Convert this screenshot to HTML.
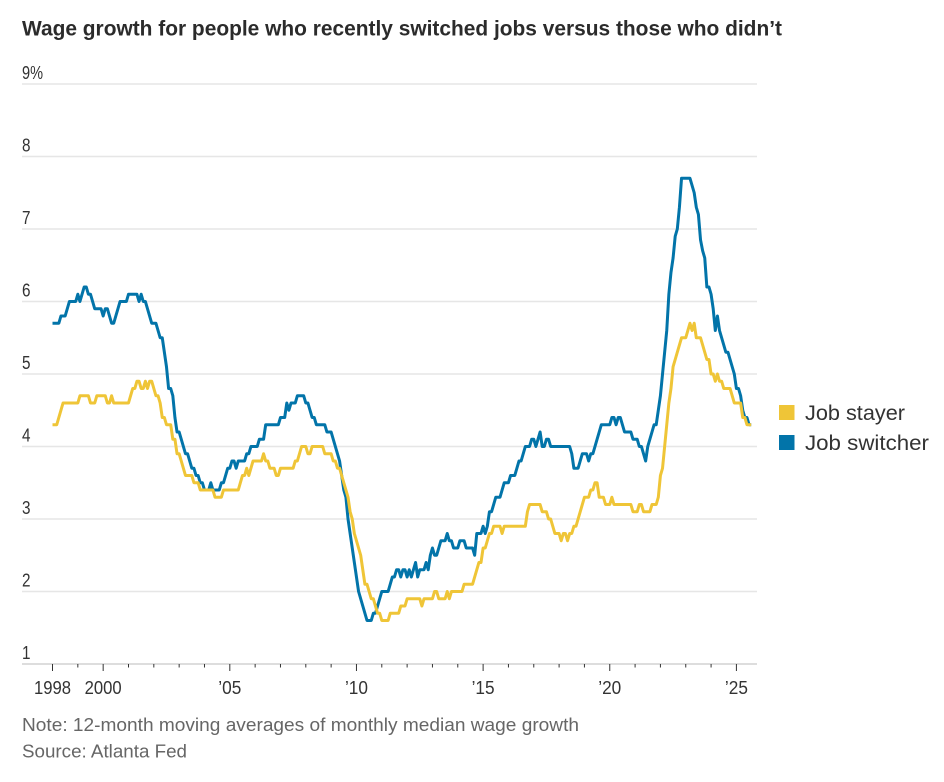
<!DOCTYPE html>
<html lang="en">
<head>
<meta charset="utf-8">
<title>Wage growth for job switchers and job stayers</title>
<style>
  html, body { margin: 0; padding: 0; background: #fff; }
  body { width: 944px; height: 782px; overflow: hidden; }
  svg { display: block; font-family: "Liberation Sans", sans-serif; }
</style>
</head>
<body>
<svg id="chart" width="944" height="782" viewBox="0 0 944 782" xmlns="http://www.w3.org/2000/svg">
  <text x="22" y="35.5" font-size="21" font-weight="700" fill="#2b2b2b" textLength="760" lengthAdjust="spacingAndGlyphs">Wage growth for people who recently switched jobs versus those who didn’t</text>
  <g id="grid"></g>
  <g id="yLabels"></g>
  <g id="xAxis"></g>
  <g id="series"></g>
  <g>
    <rect x="779" y="405" width="15.5" height="15" fill="#efc537"></rect>
    <text x="805" y="420" font-size="21.5" fill="#333" textLength="100" lengthAdjust="spacingAndGlyphs">Job stayer</text>
    <rect x="779" y="435" width="15.5" height="15" fill="#0274a9"></rect>
    <text x="805" y="450" font-size="21.5" fill="#333" textLength="124" lengthAdjust="spacingAndGlyphs">Job switcher</text>
  </g>
  <text x="22" y="731" font-size="18.5" fill="#666" textLength="557" lengthAdjust="spacingAndGlyphs">Note: 12-month moving averages of monthly median wage growth</text>
  <text x="22" y="757.5" font-size="18.5" fill="#666" textLength="165" lengthAdjust="spacingAndGlyphs">Source: Atlanta Fed</text>
</svg>
<script>
const startYear = 1998;
const yTicks = [1, 2, 3, 4, 5, 6, 7, 8, 9];
const yTickLabels = ['1', '2', '3', '4', '5', '6', '7', '8', '9%'];
const xYears = [1998, 1999, 2000, 2001, 2002, 2003, 2004, 2005, 2006, 2007, 2008, 2009, 2010, 2011, 2012, 2013, 2014, 2015, 2016, 2017, 2018, 2019, 2020, 2021, 2022, 2023, 2024, 2025];
const xLabelYears = [1998, 2000, 2005, 2010, 2015, 2020, 2025];
const xTickLabels = ['1998', '2000', '’05', '’10', '’15', '’20', '’25'];
const jobStayer = [
  4.3,4.3,4.3,4.4,4.5,4.6,4.6,4.6,4.6,4.6,4.6,4.6,
  4.6,4.7,4.7,4.7,4.7,4.7,4.6,4.6,4.6,4.7,4.7,4.7,
  4.7,4.7,4.6,4.6,4.7,4.6,4.6,4.6,4.6,4.6,4.6,4.6,
  4.6,4.7,4.8,4.8,4.9,4.9,4.8,4.8,4.9,4.8,4.9,4.9,
  4.8,4.7,4.7,4.6,4.4,4.4,4.3,4.3,4.3,4.1,4.1,3.9,
  3.9,3.8,3.7,3.6,3.6,3.6,3.6,3.5,3.5,3.5,3.4,3.4,
  3.4,3.4,3.4,3.4,3.4,3.3,3.3,3.3,3.3,3.4,3.4,3.4,
  3.4,3.4,3.4,3.4,3.4,3.5,3.6,3.6,3.7,3.6,3.7,3.8,
  3.8,3.8,3.8,3.8,3.9,3.8,3.8,3.7,3.7,3.7,3.6,3.6,
  3.7,3.7,3.7,3.7,3.7,3.7,3.7,3.8,3.8,3.9,4.0,4.0,
  4.0,3.9,3.9,4.0,4.0,4.0,4.0,4.0,4.0,3.9,3.9,3.9,
  3.9,3.8,3.8,3.7,3.7,3.6,3.5,3.4,3.3,3.1,3.0,2.8,
  2.7,2.6,2.5,2.3,2.1,2.1,2.0,1.9,1.9,1.8,1.7,1.7,
  1.6,1.6,1.6,1.6,1.7,1.7,1.7,1.7,1.7,1.8,1.8,1.8,
  1.9,1.9,1.9,1.9,1.9,1.9,1.9,1.8,1.9,1.9,1.9,1.9,
  1.9,2.0,2.0,1.9,1.9,1.9,1.9,2.0,1.9,2.0,2.0,2.0,
  2.0,2.0,2.0,2.1,2.1,2.1,2.1,2.1,2.2,2.3,2.4,2.4,
  2.6,2.6,2.7,2.8,2.8,2.9,2.9,2.9,2.9,2.8,2.9,2.9,
  2.9,2.9,2.9,2.9,2.9,2.9,2.9,2.9,2.9,3.1,3.2,3.2,
  3.2,3.2,3.2,3.2,3.1,3.1,3.1,3.0,3.0,2.9,2.8,2.8,
  2.8,2.7,2.8,2.8,2.7,2.8,2.8,2.9,2.9,3.0,3.1,3.2,
  3.3,3.3,3.3,3.4,3.4,3.5,3.5,3.3,3.3,3.3,3.2,3.2,
  3.2,3.3,3.2,3.2,3.2,3.2,3.2,3.2,3.2,3.2,3.2,3.1,
  3.1,3.1,3.2,3.2,3.1,3.1,3.1,3.1,3.2,3.2,3.2,3.3,
  3.6,3.7,4.0,4.3,4.6,4.8,5.1,5.2,5.3,5.4,5.5,5.5,
  5.5,5.6,5.7,5.6,5.7,5.5,5.5,5.5,5.4,5.3,5.2,5.2,
  5.0,5.0,4.9,5.0,4.9,4.9,4.8,4.8,4.8,4.8,4.7,4.6,
  4.6,4.6,4.6,4.4,4.4,4.3,4.3,4.3
];
const jobSwitcher = [
  5.7,5.7,5.7,5.7,5.8,5.8,5.8,5.9,6.0,6.0,6.0,6.0,
  6.1,6.0,6.1,6.2,6.2,6.1,6.1,6.0,5.9,5.9,5.9,5.9,
  5.8,5.9,5.9,5.8,5.7,5.7,5.8,5.9,6.0,6.0,6.0,6.0,
  6.1,6.1,6.1,6.1,6.1,6.0,6.1,6.0,6.0,5.9,5.8,5.7,
  5.7,5.7,5.6,5.5,5.5,5.3,5.1,4.8,4.8,4.7,4.4,4.2,
  4.2,4.1,4.0,3.9,3.9,3.8,3.7,3.7,3.6,3.6,3.5,3.5,
  3.4,3.4,3.4,3.5,3.4,3.4,3.4,3.4,3.5,3.5,3.6,3.7,
  3.7,3.8,3.8,3.7,3.8,3.8,3.8,3.8,3.9,3.9,4.0,4.0,
  4.0,4.0,4.1,4.1,4.1,4.3,4.3,4.3,4.3,4.3,4.3,4.3,
  4.4,4.4,4.4,4.6,4.5,4.6,4.6,4.6,4.7,4.7,4.7,4.7,
  4.6,4.6,4.5,4.4,4.4,4.3,4.3,4.3,4.3,4.3,4.2,4.2,
  4.2,4.1,4.0,3.9,3.8,3.6,3.4,3.3,3.0,2.8,2.6,2.4,
  2.2,2.0,1.9,1.8,1.7,1.6,1.6,1.6,1.7,1.7,1.8,1.9,
  2.0,2.0,2.0,2.0,2.1,2.2,2.2,2.3,2.3,2.2,2.3,2.3,
  2.2,2.3,2.2,2.3,2.4,2.2,2.3,2.3,2.3,2.4,2.3,2.5,
  2.6,2.5,2.5,2.6,2.7,2.7,2.7,2.8,2.7,2.7,2.6,2.6,
  2.6,2.7,2.7,2.7,2.6,2.6,2.6,2.6,2.5,2.8,2.8,2.8,
  2.9,2.8,2.9,3.1,3.1,3.2,3.3,3.3,3.3,3.4,3.5,3.5,
  3.5,3.6,3.6,3.6,3.7,3.8,3.8,3.9,4.0,4.0,4.0,4.1,
  4.1,4.0,4.1,4.2,4.0,4.0,4.1,4.1,4.0,4.0,4.0,4.0,
  4.0,4.0,4.0,4.0,4.0,4.0,3.9,3.7,3.7,3.7,3.8,3.9,
  3.9,3.9,3.8,3.9,3.9,4.0,4.1,4.2,4.3,4.3,4.3,4.3,
  4.3,4.4,4.4,4.3,4.4,4.4,4.3,4.2,4.2,4.2,4.2,4.1,
  4.1,4.1,4.0,4.0,3.9,3.8,4.0,4.1,4.2,4.3,4.3,4.5,
  4.7,5.0,5.3,5.6,6.1,6.4,6.6,6.9,7.0,7.3,7.7,7.7,
  7.7,7.7,7.7,7.6,7.5,7.3,7.2,6.85,6.7,6.6,6.2,6.2,
  6.1,5.9,5.6,5.8,5.6,5.5,5.4,5.3,5.3,5.2,5.1,5.0,
  4.8,4.8,4.7,4.5,4.4,4.4,4.3,4.3
];

const NS = 'http://www.w3.org/2000/svg';
function xScale(year) { return 52.5 + (year - 1998) * 25.33; }
function yScale(value) { return 664 - (value - 1) * 72.5; }
function monthX(index) { return xScale(startYear + index / 12); }
function make(tag, attrs, parent) {
  const el = document.createElementNS(NS, tag);
  Object.keys(attrs).forEach(function (k) { el.setAttribute(k, attrs[k]); });
  parent.appendChild(el);
  return el;
}

const grid = document.getElementById('grid');
const yLabels = document.getElementById('yLabels');
yTicks.forEach(function (v, i) {
  const isBase = v === yTicks[0];
  const line = make('line', { x1: 22, x2: 757, y1: yScale(v), y2: yScale(v), stroke: isBase ? '#dddddd' : '#e6e6e6', 'stroke-width': isBase ? 2 : 1.5 }, grid);
  
  
  const label = make('text', { x: 22, y: yScale(v) - 5, 'font-size': 18.5, fill: '#333', textLength: yTickLabels[i].length > 1 ? 21 : 8.5, lengthAdjust: 'spacingAndGlyphs' }, yLabels);
  label.textContent = yTickLabels[i];
  
  
});

const xAxis = document.getElementById('xAxis');
xYears.forEach(function (yr) {
  const major = xLabelYears.indexOf(yr) !== -1;
  const tick = make('line', { x1: xScale(yr), x2: xScale(yr), y1: 664, y2: major ? 671 : 667.5, stroke: '#333', 'stroke-width': 1 }, xAxis);
  
  
});
xLabelYears.forEach(function (yr, i) {
  const label = make('text', { x: xScale(yr), y: 694, 'font-size': 18.5, fill: '#333', 'text-anchor': 'middle', textLength: xTickLabels[i].length > 3 ? 37 : 23, lengthAdjust: 'spacingAndGlyphs' }, xAxis);
  label.textContent = xTickLabels[i];
  
  
});

function linePath(values) {
  return values.map(function (v, i) {
    return (i ? 'L' : 'M') + monthX(i).toFixed(2) + ' ' + yScale(v).toFixed(2);
  }).join('');
}
const seriesGroup = document.getElementById('series');
const switcherLine = make('path', { d: linePath(jobSwitcher), fill: 'none', stroke: '#0274a9', 'stroke-width': 3, 'stroke-linejoin': 'round' }, seriesGroup);


const stayerLine = make('path', { d: linePath(jobStayer), fill: 'none', stroke: '#efc537', 'stroke-width': 3, 'stroke-linejoin': 'round' }, seriesGroup);


</script>
</body>
</html>
